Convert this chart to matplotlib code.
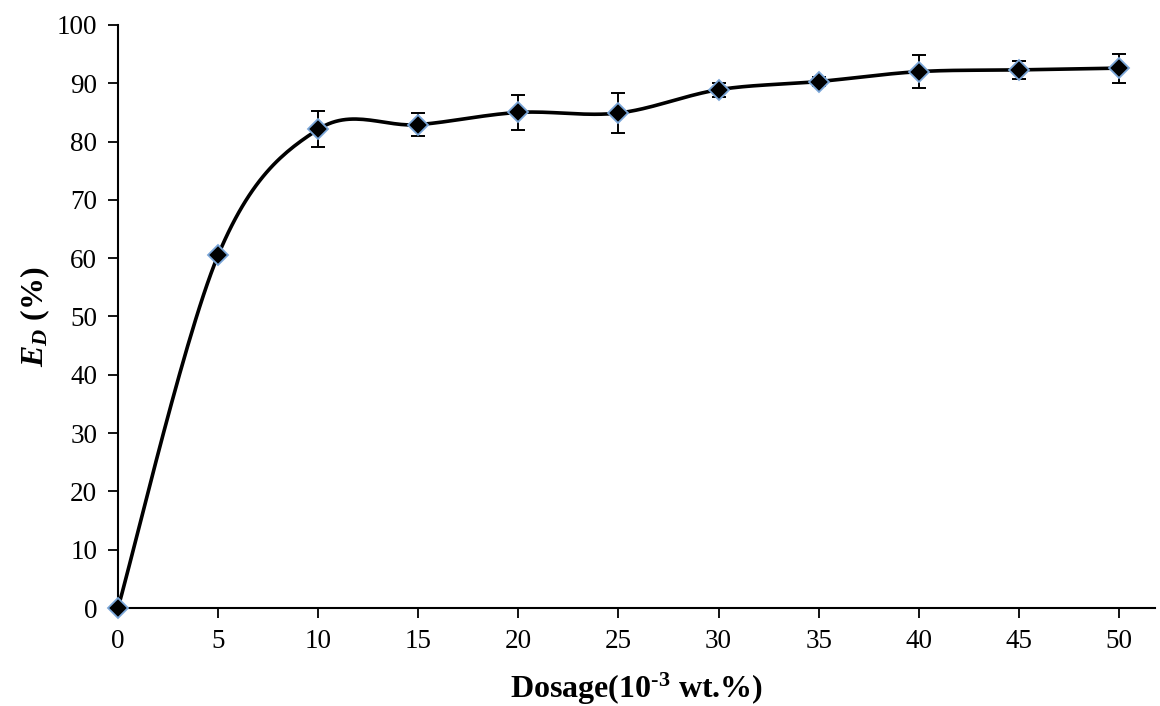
import numpy as np
import matplotlib
matplotlib.use("Agg")
import matplotlib.pyplot as plt

plt.rcParams['font.family'] = ['Liberation Serif', 'DejaVu Serif']
plt.rcParams['mathtext.fontset'] = 'custom'
plt.rcParams['mathtext.rm'] = 'Liberation Serif'
plt.rcParams['mathtext.bf'] = 'Liberation Serif:bold'
plt.rcParams['mathtext.it'] = 'Liberation Serif:italic'
plt.rcParams['mathtext.bfit'] = 'Liberation Serif:italic:bold'

# data
dosage = [0, 5, 10, 15, 20, 25, 30, 35, 40, 45, 50]
ed = [0, 60.5, 82.1, 82.9, 85.0, 84.9, 88.9, 90.3, 92.0, 92.3, 92.6]
err = [0, 0, 3.1, 2.0, 3.0, 3.4, 1.2, 0.7, 2.8, 1.5, 2.5]
xticks = [0, 5, 10, 15, 20, 25, 30, 35, 40, 45, 50]
yticks = [0, 10, 20, 30, 40, 50, 60, 70, 80, 90, 100]


def smooth(x, y, n=30):
    # catmull-rom style smoothing (like excel smoothed line)
    x = np.asarray(x, float)
    y = np.asarray(y, float)
    px = np.concatenate([[x[0]], x, [x[-1]]])
    py = np.concatenate([[y[0]], y, [y[-1]]])
    xs, ys = [], []
    t = np.linspace(0, 1, n)
    for i in range(1, len(px) - 2):
        p0 = np.array([px[i], py[i]])
        p3 = np.array([px[i + 1], py[i + 1]])
        c1 = p0 + (np.array([px[i + 1], py[i + 1]]) - np.array([px[i - 1], py[i - 1]])) / 6
        c2 = p3 - (np.array([px[i + 2], py[i + 2]]) - np.array([px[i], py[i]])) / 6
        b = ((1 - t) ** 3)[:, None] * p0 + (3 * (1 - t) ** 2 * t)[:, None] * c1 \
            + (3 * (1 - t) * t ** 2)[:, None] * c2 + (t ** 3)[:, None] * p3
        xs.extend(b[:, 0])
        ys.extend(b[:, 1])
    return xs, ys


fig = plt.figure(figsize=(11.6, 7.06), dpi=100)
ax = fig.add_axes([0.1017, 0.1388, 0.894, 0.8258])

sx, sy = smooth(dosage, ed)
ax.plot(sx, sy, color='black', lw=2.6, zorder=2)
ax.errorbar(dosage, ed, yerr=err, fmt='none', ecolor='black', elinewidth=1.4,
            capsize=5, capthick=1.4, zorder=3)
ax.plot(dosage, ed, 'D', ms=10, mfc='black', mec='#7aa6d8', mew=1.3, zorder=4,
        clip_on=False)

ax.set_xlim(0, 51.8)
ax.set_ylim(0, 100)
ax.set_xticks(xticks)
ax.set_yticks(yticks)
ax.spines['top'].set_visible(False)
ax.spines['right'].set_visible(False)
ax.spines['left'].set_linewidth(1.5)
ax.spines['bottom'].set_linewidth(1.5)
ax.tick_params(direction='out', length=7, width=1.3, labelsize=19.5, pad=8)

ax.set_xlabel('Dosage(10$^{\\mathbf{\u20103}}$ wt.%)', fontsize=23, fontweight='bold', labelpad=12)
ax.set_ylabel(r'$\mathbfit{E}_{\mathbfit{D}}$ (%)', fontsize=23, fontweight='bold', labelpad=3)

fig.savefig('out.png', dpi=100)
